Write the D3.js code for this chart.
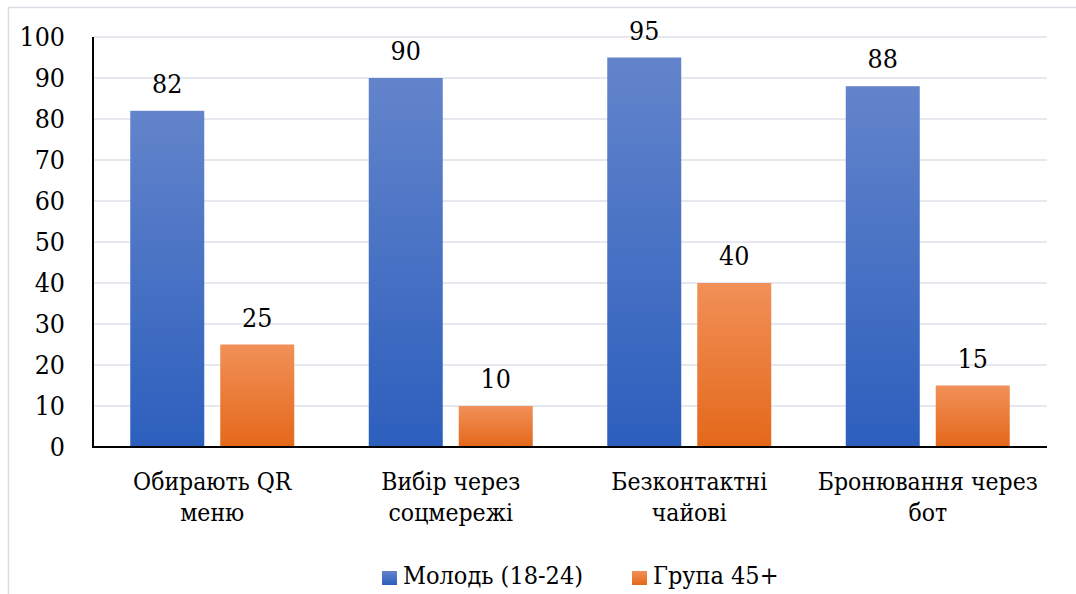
<!DOCTYPE html>
<html>
<head>
<meta charset="utf-8">
<script src="https://cdn.jsdelivr.net/npm/d3@7"></script>
<style>
  html, body { margin: 0; padding: 0; background: #fff; }
  svg { display: block; }
  svg text { font-family: "DejaVu Serif Condensed", "DejaVu Serif", serif; font-stretch: condensed; fill: #000; }
</style>
</head>
<body>
<svg id="chart" width="1076" height="594"></svg>
<script>
// Categories (two-line labels) and series values
const categories = [
  ["Обирають QR", "меню"],
  ["Вибір через", "соцмережі"],
  ["Безконтактні", "чайові"],
  ["Бронювання через", "бот"]
];
const seriesNames = ["Молодь (18-24)", "Група 45+"];
const youthValues = [82, 90, 95, 88];
const olderValues = [25, 10, 40, 15];
const yTicks = [0, 10, 20, 30, 40, 50, 60, 70, 80, 90, 100];

const svg = d3.select("#chart");
const W = 1076, H = 594;
const margin = { left: 93, right: 29, top: 37, bottom: 147 };
const plotW = W - margin.left - margin.right;
const plotH = H - margin.top - margin.bottom;

// Gradients for the two series
const defs = svg.append("defs");
const grads = [
  { id: "gBlue", top: "#6384cb", bottom: "#2c5fbd" },
  { id: "gOrange", top: "#f19058", bottom: "#e4681a" }
];
grads.forEach(g => {
  const lg = defs.append("linearGradient").attr("id", g.id)
    .attr("x1", 0).attr("y1", 0).attr("x2", 0).attr("y2", 1);
  lg.append("stop").attr("offset", "0%").attr("stop-color", g.top);
  lg.append("stop").attr("offset", "100%").attr("stop-color", g.bottom);
});

// Outer chart frame
svg.append("rect")
  .attr("x", 8.5).attr("y", 7.5)
  .attr("width", W + 20).attr("height", H + 20)
  .attr("fill", "none").attr("stroke", "#d9dde5").attr("stroke-width", 1.5);

const x0 = d3.scaleBand().domain(d3.range(categories.length))
  .range([0, plotW]).padding(0);
const bandW = x0.bandwidth();
const barW = 74, barGap = 16;

const y = d3.scaleLinear().domain([0, 100]).range([plotH, 0]);

const g = svg.append("g").attr("transform", `translate(${margin.left},${margin.top})`);

// Gridlines
g.append("g").selectAll("line").data(yTicks.filter(t => t > 0)).join("line")
  .attr("x1", 0).attr("x2", plotW)
  .attr("y1", d => y(d)).attr("y2", d => y(d))
  .attr("stroke", "#dde1e8").attr("stroke-width", 1.5);

// Y axis labels
const yAxis = d3.axisLeft(y).tickValues(yTicks).tickSize(0).tickPadding(28);
const ya = g.append("g").call(yAxis).attr("font-family", null).attr("font-size", null);
ya.select(".domain").remove();
ya.selectAll("text").attr("font-size", 26.5).attr("fill", "#000");

// Bars with value labels
const series = [
  { name: seriesNames[0], values: youthValues, fill: "url(#gBlue)", offset: -barGap / 2 - barW },
  { name: seriesNames[1], values: olderValues, fill: "url(#gOrange)", offset: barGap / 2 }
];
series.forEach(s => {
  const sg = g.append("g");
  sg.selectAll("rect").data(s.values).join("rect")
    .attr("x", (d, i) => x0(i) + bandW / 2 + s.offset)
    .attr("y", d => y(d))
    .attr("width", barW)
    .attr("height", d => plotH - y(d))
    .attr("fill", s.fill);
  sg.selectAll("text").data(s.values).join("text")
    .attr("x", (d, i) => x0(i) + bandW / 2 + s.offset + barW / 2)
    .attr("y", d => y(d) - 18)
    .attr("text-anchor", "middle")
    .attr("font-size", 26.5)
    .text(d => d);
});

// Axis lines
g.append("line").attr("x1", 0).attr("x2", 0).attr("y1", 0).attr("y2", plotH)
  .attr("stroke", "#000").attr("stroke-width", 2);
g.append("line").attr("x1", -1).attr("x2", plotW).attr("y1", plotH).attr("y2", plotH)
  .attr("stroke", "#000").attr("stroke-width", 2);

// Category labels
const cl = g.append("g").selectAll("text").data(categories).join("text")
  .attr("x", (d, i) => x0(i) + bandW / 2)
  .attr("y", plotH + 43)
  .attr("text-anchor", "middle")
  .attr("font-size", 24.5);
cl.selectAll("tspan").data(d => d).join("tspan")
  .attr("x", function() { return d3.select(this.parentNode).attr("x"); })
  .attr("dy", (d, i) => i === 0 ? 0 : 31)
  .text(d => d);

// Legend
const legend = svg.append("g");
const legendItems = [
  { name: seriesNames[0], fill: "url(#gBlue)", x: 382 },
  { name: seriesNames[1], fill: "url(#gOrange)", x: 632 }
];
legendItems.forEach(it => {
  legend.append("rect").attr("x", it.x).attr("y", 571).attr("width", 15).attr("height", 14).attr("fill", it.fill);
  legend.append("text").attr("x", it.x + 21).attr("y", 584).attr("font-size", 25).text(it.name);
});
</script>
</body>
</html>
